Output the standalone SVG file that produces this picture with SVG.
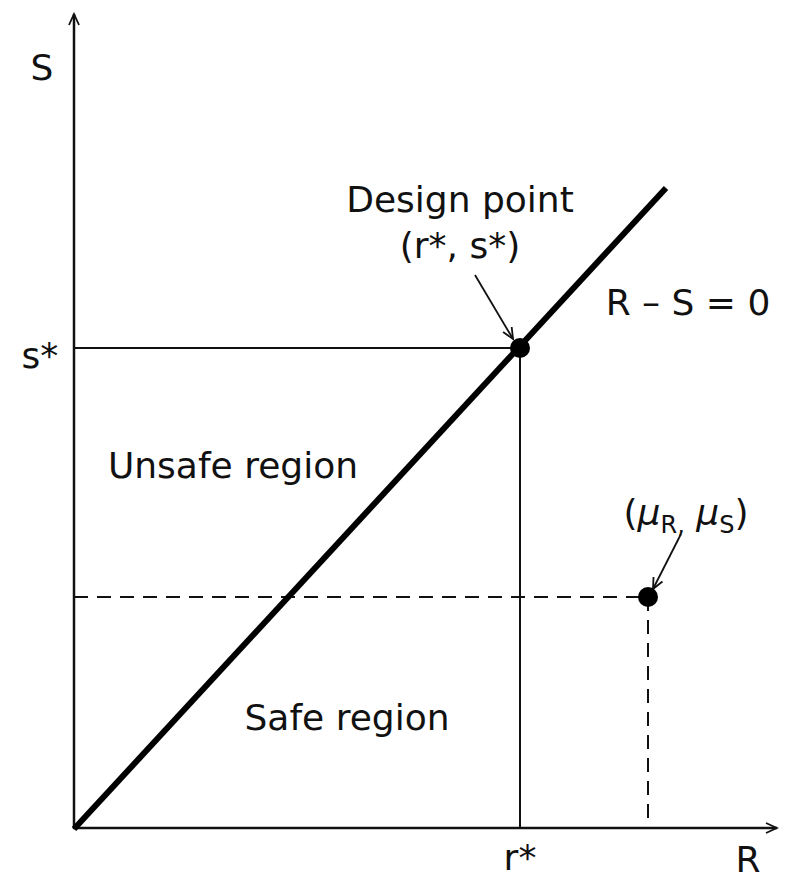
<svg xmlns="http://www.w3.org/2000/svg" width="785" height="885" viewBox="0 0 785 885">
<style>
text{font-family:"DejaVu Sans","Liberation Sans",sans-serif;font-size:36px;fill:#111}
.ax{stroke:#111;stroke-width:2.5;fill:none}
.thin{stroke:#111;stroke-width:2;fill:none}
.dash{stroke:#111;stroke-width:2;fill:none;stroke-dasharray:14 9}
.thick{stroke:#000;stroke-width:6;fill:none}
.ptr{stroke:#111;stroke-width:1.8;fill:none}
</style>
<defs>
<marker id="ah" markerWidth="14" markerHeight="12" refX="12" refY="6" orient="auto" markerUnits="userSpaceOnUse">
<path d="M1,1 L12,6 L1,11" fill="none" stroke="#111" stroke-width="1.8"/>
</marker>
</defs>
<rect width="785" height="885" fill="#fff"/>
<g id="connectors">
<line class="ax" x1="74" y1="829" x2="74" y2="14" marker-end="url(#ah)"/>
<line class="ax" x1="73" y1="828" x2="777" y2="828" marker-end="url(#ah)"/>
<line class="thin" x1="74" y1="348" x2="520" y2="348"/>
<line class="thin" x1="520" y1="348" x2="520" y2="828"/>
<line class="dash" x1="74" y1="597" x2="648" y2="597"/>
<line class="dash" x1="648" y1="597" x2="648" y2="828"/>
<line class="thick" x1="74" y1="829" x2="666" y2="188"/>
<line class="ptr" x1="475" y1="275" x2="513" y2="339" marker-end="url(#ah)"/>
<line class="ptr" x1="681" y1="534" x2="653" y2="589" marker-end="url(#ah)"/>
</g>
<g id="design-point"><circle cx="520" cy="348" r="10" fill="#000"/></g>
<g id="mean-point"><circle cx="648" cy="597" r="10" fill="#000"/></g>
<g id="labels">
<text x="42" y="80" text-anchor="middle">S</text>
<text x="40" y="368" text-anchor="middle">s*</text>
<text x="460" y="212" text-anchor="middle">Design point</text>
<text x="460" y="258" text-anchor="middle">(r*, s*)</text>
<text x="688" y="315" text-anchor="middle">R – S = 0</text>
<text x="233" y="478" text-anchor="middle">Unsafe region</text>
<text x="686" y="525" text-anchor="middle">(<tspan font-style="italic">μ</tspan><tspan font-size="24" dy="8">R,</tspan><tspan dy="-8"> </tspan><tspan font-style="italic">μ</tspan><tspan font-size="24" dy="8">S</tspan><tspan dy="-8">)</tspan></text>
<text x="347" y="730" text-anchor="middle">Safe region</text>
<text x="520" y="870" text-anchor="middle">r*</text>
<text x="748" y="872" text-anchor="middle">R</text>
</g>
</svg>
